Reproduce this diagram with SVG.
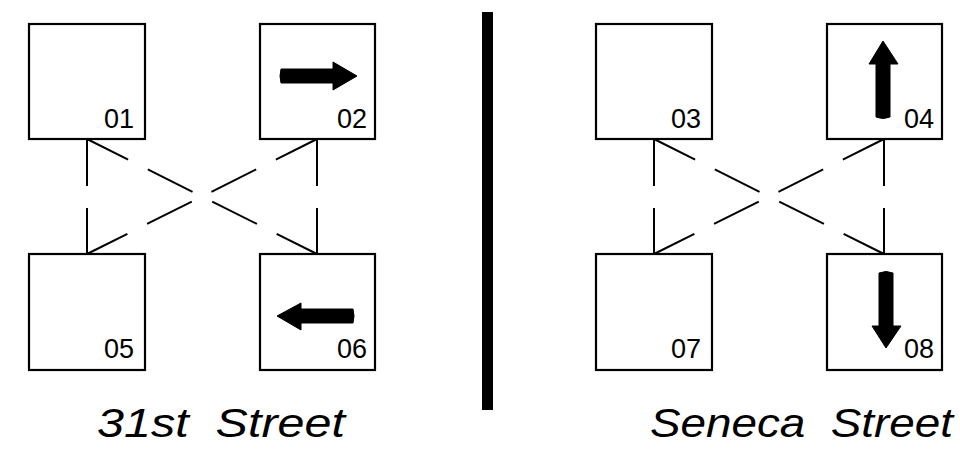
<svg xmlns="http://www.w3.org/2000/svg" width="960" height="449" viewBox="0 0 960 449">
<style>
.box{fill:#fff;stroke:#000;stroke-width:2.2}
.num{font-family:"Liberation Sans",Arial,sans-serif;font-size:27px;fill:#000;text-anchor:end}
.street{font-family:"Liberation Sans",Arial,sans-serif;font-size:40px;font-style:italic;fill:#000}
.v{stroke:#000;stroke-width:2;fill:none;stroke-dasharray:47 22}
.d{stroke:#000;stroke-width:2;fill:none;stroke-dasharray:46 22 50 22 50 22 46 200}
.arr{fill:#000;stroke:#000;stroke-width:1;stroke-linejoin:round}
</style>
<rect x="0" y="0" width="960" height="449" fill="#fff"/>
<g id="connectors">
<line class="v" x1="87" y1="139" x2="87" y2="254"/>
<line class="v" x1="317" y1="139" x2="317" y2="254"/>
<line class="d" x1="87" y1="139" x2="317" y2="254"/>
<line class="d" x1="317" y1="139" x2="87" y2="254"/>
<line class="v" x1="654" y1="139" x2="654" y2="254"/>
<line class="v" x1="884" y1="139" x2="884" y2="254"/>
<line class="d" x1="654" y1="139" x2="884" y2="254"/>
<line class="d" x1="884" y1="139" x2="654" y2="254"/>
</g>
<g id="divider"><rect x="482" y="12" width="11" height="398" fill="#000"/></g>
<g id="n01"><rect class="box" x="29" y="24" width="116" height="115"/><text class="num" x="134" y="128">01</text></g>
<g id="n02"><rect class="box" x="260" y="24" width="115" height="115"/><text class="num" x="367" y="128">02</text>
<path class="arr" d="M281,69 L333,69 L333,62 L357,76 L333,90 L333,83 L281,83 Q279,76 281,69 Z"/></g>
<g id="n05"><rect class="box" x="29" y="254" width="116" height="116"/><text class="num" x="134" y="358">05</text></g>
<g id="n06"><rect class="box" x="260" y="254" width="115" height="116"/><text class="num" x="367" y="358">06</text>
<path class="arr" d="M353,309 L301,309 L301,303 L277,316 L301,330 L301,323 L353,323 Q355,316 353,309 Z"/></g>
<g id="n03"><rect class="box" x="596" y="24" width="116" height="115"/><text class="num" x="701" y="128">03</text></g>
<g id="n04"><rect class="box" x="827" y="24" width="115" height="115"/><text class="num" x="934" y="128">04</text>
<path class="arr" d="M876,117 L876,64 L869,64 L883,41 L898,64 L890,64 L890,117 Q883,120 876,117 Z"/></g>
<g id="n07"><rect class="box" x="596" y="254" width="116" height="116"/><text class="num" x="701" y="358">07</text></g>
<g id="n08"><rect class="box" x="827" y="254" width="115" height="116"/><text class="num" x="934" y="358">08</text>
<path class="arr" d="M879,273 L879,326 L872,326 L886,348 L901,326 L893,326 L893,273 Q886,270 879,273 Z"/></g>
<text class="street" x="97" y="437" textLength="248" lengthAdjust="spacingAndGlyphs" xml:space="preserve">31st  Street</text>
<text class="street" x="650" y="437" textLength="303" lengthAdjust="spacingAndGlyphs" xml:space="preserve">Seneca  Street</text>
</svg>
